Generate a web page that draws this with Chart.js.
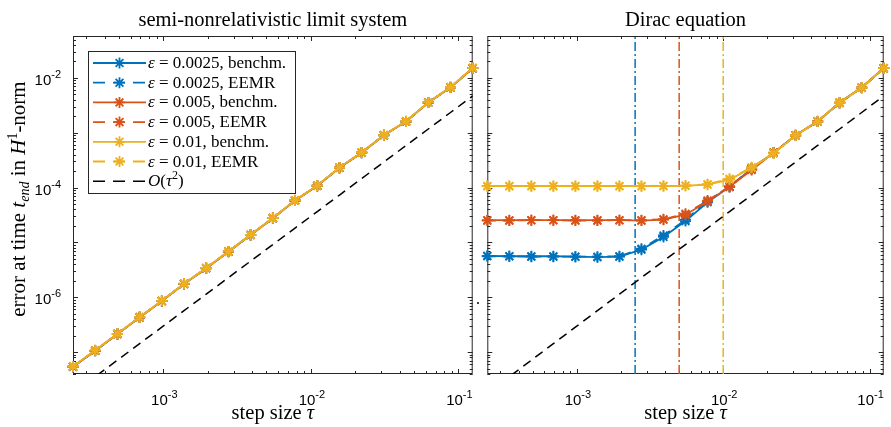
<!DOCTYPE html>
<html>
<head>
<meta charset="utf-8">
<script src="https://cdn.jsdelivr.net/npm/chart.js@4.4.1/dist/chart.umd.min.js"></script>
<style>
  body { margin: 0; background: #fff; }
  #wrap { position: relative; width: 891px; height: 427px; }
  canvas { position: absolute; top: 0; }
</style>
</head>
<body>
<div id="wrap">
  <canvas id="semiChart" width="480" height="427" style="left:0"></canvas>
  <canvas id="diracChart" width="411" height="427" style="left:480px"></canvas>
</div>
<script>
// step sizes tau = 2^(-k/2), k = 24..6
const tau = [2.441e-4, 3.453e-4, 4.883e-4, 6.905e-4, 9.766e-4, 1.381e-3, 1.953e-3, 2.762e-3,
             3.906e-3, 5.524e-3, 7.813e-3, 1.105e-2, 1.563e-2, 2.210e-2, 3.125e-2, 4.419e-2,
             6.250e-2, 8.839e-2, 1.250e-1];

const epsValues = [0.0025, 0.005, 0.01];
const epsLabels = ['0.0025', '0.005', '0.01'];
const epsColors = ['#0072BD', '#D95319', '#EDB120'];

// semi-nonrelativistic limit system (all eps on top of each other)
const leftErr0025 = [5.42e-8, 1.06e-7, 2.14e-7, 4.31e-7, 8.56e-7, 1.75e-6, 3.38e-6, 6.79e-6, 1.37e-5,
                     2.77e-5, 5.80e-5, 1.08e-4, 2.30e-4, 4.33e-4, 9.00e-4, 1.60e-3, 3.55e-3, 6.70e-3, 1.50e-2];
const leftErr005  = [5.45e-8, 1.07e-7, 2.15e-7, 4.33e-7, 8.60e-7, 1.76e-6, 3.40e-6, 6.82e-6, 1.38e-5,
                     2.78e-5, 5.82e-5, 1.08e-4, 2.31e-4, 4.35e-4, 9.02e-4, 1.61e-3, 3.56e-3, 6.72e-3, 1.50e-2];
const leftErr001  = [5.48e-8, 1.08e-7, 2.16e-7, 4.35e-7, 8.64e-7, 1.77e-6, 3.42e-6, 6.85e-6, 1.38e-5,
                     2.79e-5, 5.85e-5, 1.09e-4, 2.32e-4, 4.36e-4, 9.05e-4, 1.62e-3, 3.57e-3, 6.75e-3, 1.51e-2];

// Dirac equation
const diracBench0025 = [5.7e-6, 5.6e-6, 5.6e-6, 5.6e-6, 5.5e-6, 5.4e-6, 5.5e-6, 7.4e-6, 1.26e-5, 2.45e-5,
                        5.4e-5, 1.03e-4, 2.2e-4, 4.3e-4, 9.0e-4, 1.6e-3, 3.55e-3, 6.7e-3, 1.5e-2];
const diracEEMR0025  = [5.6e-6, 5.6e-6, 5.5e-6, 5.5e-6, 5.5e-6, 5.5e-6, 5.6e-6, 7.7e-6, 1.34e-5, 2.6e-5,
                        5.6e-5, 1.05e-4, 2.22e-4, 4.3e-4, 8.9e-4, 1.6e-3, 3.5e-3, 6.6e-3, 1.5e-2];
const diracBench005  = [2.55e-5, 2.55e-5, 2.55e-5, 2.55e-5, 2.55e-5, 2.55e-5, 2.55e-5, 2.5e-5, 2.6e-5, 3.2e-5,
                        5.6e-5, 1.03e-4, 2.1e-4, 4.3e-4, 9.0e-4, 1.6e-3, 3.55e-3, 6.7e-3, 1.5e-2];
const diracEEMR005   = [2.5e-5, 2.5e-5, 2.55e-5, 2.55e-5, 2.5e-5, 2.5e-5, 2.55e-5, 2.55e-5, 2.65e-5, 3.35e-5,
                        5.8e-5, 1.05e-4, 2.15e-4, 4.35e-4, 8.9e-4, 1.62e-3, 3.5e-3, 6.6e-3, 1.5e-2];
const diracBench001  = [1.07e-4, 1.07e-4, 1.07e-4, 1.07e-4, 1.07e-4, 1.07e-4, 1.07e-4, 1.07e-4, 1.07e-4, 1.08e-4,
                        1.13e-4, 1.40e-4, 2.29e-4, 4.2e-4, 9.0e-4, 1.6e-3, 3.55e-3, 6.7e-3, 1.5e-2];
const diracEEMR001   = [1.06e-4, 1.06e-4, 1.06e-4, 1.06e-4, 1.06e-4, 1.06e-4, 1.06e-4, 1.06e-4, 1.07e-4, 1.08e-4,
                        1.15e-4, 1.45e-4, 2.35e-4, 4.25e-4, 8.9e-4, 1.6e-3, 3.5e-3, 6.6e-3, 1.5e-2];

// O(tau^2) reference line
const refErr = [1.79e-8, 3.58e-8, 7.15e-8, 1.43e-7, 2.86e-7, 5.72e-7, 1.14e-6, 2.29e-6, 4.58e-6, 9.15e-6,
                1.83e-5, 3.66e-5, 7.32e-5, 1.46e-4, 2.93e-4, 5.86e-4, 1.17e-3, 2.34e-3, 4.69e-3];

const yLimits = [4e-8, 5.8e-2];
const xTicks = [1e-3, 1e-2, 1e-1];
const xTickLabels = ['10^-3', '10^-2', '10^-1'];
const yTicks = [1e-2, 1e-4, 1e-6];
const yTickLabels = ['10^-2', '10^-4', '10^-6'];

const SERIF = '"Liberation Serif", "DejaVu Serif", serif';
const SANS = '"Liberation Sans", Arial, sans-serif';
const AXIS_COLOR = '#262626';

function drawRich(ctx, segs, x, y, align) {
    let total = 0;
    segs.forEach(s => { ctx.font = s.font; s.w = ctx.measureText(s.text).width; total += s.w; });
    let cx = align === 'center' ? x - total / 2 : (align === 'right' ? x - total : x);
    ctx.textAlign = 'left';
    ctx.textBaseline = 'alphabetic';
    segs.forEach(s => { ctx.font = s.font; ctx.fillText(s.text, cx, y + (s.dy || 0)); cx += s.w; });
}

function powerLabel(label) {
    const [base, exp] = label.split('^');
    return [{text: base, font: '15px ' + SANS}, {text: exp, font: '11px ' + SANS, dy: -7}];
}

function logTicks(scale) {
    const out = [];
    for (let n = Math.floor(Math.log10(scale.min)); n <= Math.ceil(Math.log10(scale.max)); n++) {
        for (let k = 1; k <= 9; k++) {
            const v = k * Math.pow(10, n);
            if (v >= scale.min * 0.9999 && v <= scale.max * 1.0001) out.push({v, major: k === 1});
        }
    }
    return out;
}

const it = (t, size) => ({text: t, font: 'italic ' + (size || 17) + 'px ' + SERIF});
const rm = (t, size) => ({text: t, font: (size || 17) + 'px ' + SERIF});

// matlab-like box, inward ticks, labels, legend
const axesFrame = {
    id: 'axesFrame',
    beforeDatasetsDraw(chart, args, opts) {
        const {ctx, chartArea: a, scales: {x, y}} = chart;
        ctx.save();
        ctx.strokeStyle = AXIS_COLOR;
        ctx.lineWidth = 1;
        ctx.strokeRect(a.left + 0.5, a.top + 0.5, a.right - a.left - 1, a.bottom - a.top - 1);
        ctx.beginPath();
        logTicks(x).forEach(t => {
            const px = Math.round(x.getPixelForValue(t.v)) + 0.5;
            const len = t.major ? 5 : 3;
            ctx.moveTo(px, a.bottom); ctx.lineTo(px, a.bottom - len);
            ctx.moveTo(px, a.top); ctx.lineTo(px, a.top + len);
        });
        logTicks(y).forEach(t => {
            const py = Math.round(y.getPixelForValue(t.v)) + 0.5;
            const len = t.major ? 5 : 3;
            ctx.moveTo(a.left, py); ctx.lineTo(a.left + len, py);
            ctx.moveTo(a.right, py); ctx.lineTo(a.right - len, py);
        });
        ctx.stroke();
        ctx.restore();
    },
    afterDatasetsDraw(chart, args, opts) {
        if (!opts.legend) return;
        const ctx = chart.ctx;
        ctx.save();
        ctx.fillStyle = '#fff';
        ctx.fillRect(88, 51, 207, 142);
        ctx.strokeStyle = AXIS_COLOR;
        ctx.lineWidth = 1;
        ctx.strokeRect(88.5, 51.5, 207, 142);
        chart.data.datasets.filter(ds => ds.legendSegs).forEach((ds, i) => {
            const yy = 63 + i * 19.7;
            ctx.strokeStyle = ds.borderColor;
            ctx.lineWidth = ds.borderWidth;
            ctx.setLineDash(ds.borderDash.length ? [12, 8] : []);
            ctx.beginPath();
            ctx.moveTo(93, yy); ctx.lineTo(146, yy);
            ctx.stroke();
            ctx.setLineDash([]);
            if (ds.pointRadius > 0) {
                ctx.lineWidth = ds.pointBorderWidth;
                Chart.helpers.drawPoint(ctx, {pointStyle: 'star', radius: ds.pointRadius, borderWidth: ds.pointBorderWidth, rotation: 0}, 119.5, yy);
            }
            ctx.fillStyle = '#000';
            drawRich(ctx, ds.legendSegs, 148, yy + 5, 'left');
        });
        ctx.restore();
    },
    afterDraw(chart, args, opts) {
        const {ctx, chartArea: a, scales: {x, y}} = chart;
        const cx = (a.left + a.right) / 2;
        ctx.save();
        ctx.fillStyle = '#000';
        drawRich(ctx, [rm(opts.title, 20.5)], cx, 26, 'center');
        xTicks.forEach((v, i) => drawRich(ctx, powerLabel(xTickLabels[i]), x.getPixelForValue(v) + 1, 405, 'center'));
        drawRich(ctx, [rm('step size ', 20.5), it('τ', 20.5)], cx, 419, 'center');
        if (opts.yLabels) {
            yTicks.forEach((v, i) => drawRich(ctx, powerLabel(yTickLabels[i]), 61, y.getPixelForValue(v) + 7, 'right'));
            ctx.save();
            ctx.translate(25, 199);
            ctx.rotate(-Math.PI / 2);
            drawRich(ctx, [rm('error at time ', 21), it('t', 21), {text: 'end', font: 'italic 14px ' + SERIF, dy: 4},
                           rm(' in ', 21), it('H', 21), {text: '1', font: '14px ' + SERIF, dy: -8}, rm('-norm', 21)], 0, 0, 'center');
            ctx.restore();
            drawRich(ctx, [rm('.', 16)], 476, 304, 'left');
        }
        ctx.restore();
    }
};

function series(values, idx, dashed, order) {
    const color = epsColors[idx];
    return {
        data: values.map((v, i) => ({x: tau[i], y: v})),
        borderColor: color, borderWidth: 1.8, borderDash: dashed ? [9, 6] : [],
        pointStyle: 'star', pointRadius: 5.5, pointBorderColor: color, pointBackgroundColor: color,
        pointBorderWidth: 1.8, tension: 0, fill: false, clip: false, order: order,
        legendSegs: [it('ε'), rm(' = ' + epsLabels[idx] + (dashed ? ', EEMR' : ', benchm.'))]
    };
}

function refLine() {
    return {
        data: refErr.map((v, i) => ({x: tau[i], y: v})),
        borderColor: '#000', borderWidth: 1.5, borderDash: [9, 6], pointRadius: 0, order: 6,
        legendSegs: [it('O'), rm('('), it('τ'), {text: '2', font: '12px ' + SERIF, dy: -7}, rm(')')]
    };
}

function epsLine(idx) {
    return {
        data: [{x: epsValues[idx], y: yLimits[0]}, {x: epsValues[idx], y: yLimits[1]}],
        borderColor: epsColors[idx], borderWidth: 1.5, borderDash: [9, 3, 2, 3], pointRadius: 0, order: 7
    };
}

function buildChart(canvasId, datasets, panel) {
    return new Chart(document.getElementById(canvasId), {
        type: 'line',
        data: { datasets },
        options: {
            responsive: false,
            animation: false,
            events: [],
            layout: { padding: { top: 36, right: panel.padRight, left: 0, bottom: 0 } },
            scales: {
                x: {
                    type: 'logarithmic', min: tau[0], max: tau[tau.length - 1],
                    ticks: { display: false, autoSkip: false },
                    grid: { display: false }, border: { display: false },
                    afterFit: s => { s.height = 53; }
                },
                y: {
                    type: 'logarithmic', min: yLimits[0], max: yLimits[1],
                    ticks: { display: false, autoSkip: false },
                    grid: { display: false }, border: { display: false },
                    afterFit: s => { s.width = panel.axisWidth; }
                }
            },
            plugins: {
                legend: { display: false },
                tooltip: { enabled: false },
                axesFrame: panel
            }
        },
        plugins: [axesFrame]
    });
}

buildChart('semiChart', [
    series(leftErr0025, 0, false, 5), series(leftErr0025, 0, true, 4),
    series(leftErr005, 1, false, 3), series(leftErr005, 1, true, 2),
    series(leftErr001, 2, false, 1), series(leftErr001, 2, true, 0),
    refLine()
], { title: 'semi-nonrelativistic limit system', padRight: 5, axisWidth: 73, yLabels: true, legend: true });

buildChart('diracChart', [
    series(diracBench0025, 0, false, 5), series(diracEEMR0025, 0, true, 4),
    series(diracBench005, 1, false, 3), series(diracEEMR005, 1, true, 2),
    series(diracBench001, 2, false, 1), series(diracEEMR001, 2, true, 0),
    refLine(), epsLine(0), epsLine(1), epsLine(2)
], { title: 'Dirac equation', padRight: 4, axisWidth: 6, yLabels: false, legend: false });
</script>
</body>
</html>
